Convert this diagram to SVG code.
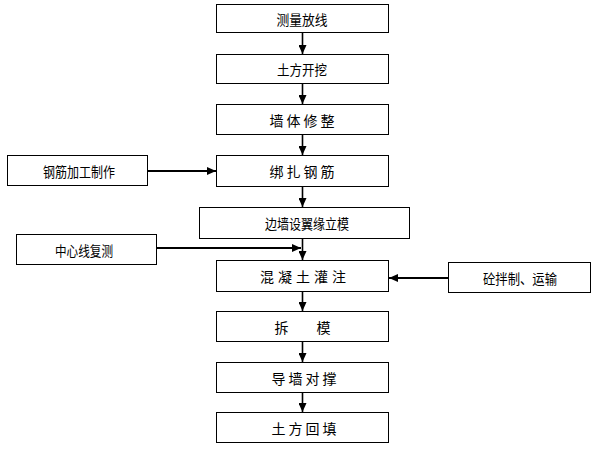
<svg xmlns="http://www.w3.org/2000/svg" width="600" height="451" viewBox="0 0 600 451">
<defs>
<style>
rect{fill:#fff;stroke:#000;stroke-width:1}
text{font-family:"Noto Sans CJK SC","Noto Sans",sans-serif;font-size:14px;fill:#000;text-anchor:middle;dominant-baseline:central}
.sp{letter-spacing:3px}
.c line{stroke:#000;stroke-width:1.6;marker-end:url(#ah)}
.c .h{stroke-width:2}
</style>
<marker id="ah" markerUnits="userSpaceOnUse" markerWidth="9" markerHeight="8" refX="9" refY="4" orient="auto">
<path d="M0,0 L9,4 L0,8 z" fill="#000"/>
</marker>
</defs>
<rect x="0" y="0" width="600" height="451" style="stroke:none"/>
<g id="n1"><rect x="216.5" y="4.5" width="172" height="28"/><text x="302" y="18.5" textLength="51" lengthAdjust="spacingAndGlyphs">测量放线</text></g>
<g id="n2"><rect x="216.5" y="54.5" width="172" height="29"/><text x="302" y="69" textLength="50" lengthAdjust="spacingAndGlyphs">土方开挖</text></g>
<g id="n3"><rect x="216.5" y="104.5" width="172" height="30"/><text class="sp" x="303.5" y="119.5">墙体修整</text></g>
<g id="n4"><rect x="216.5" y="155.5" width="172" height="31"/><text class="sp" x="303.5" y="171">绑扎钢筋</text></g>
<g id="n5"><rect x="199.5" y="207.5" width="210" height="31"/><text x="307" y="223" textLength="84" lengthAdjust="spacingAndGlyphs">边墙设翼缘立模</text></g>
<g id="n6"><rect x="216.5" y="260.5" width="172" height="31"/><text x="305" y="276" style="letter-spacing:4px">混凝土灌注</text></g>
<g id="n7"><rect x="216.5" y="311.5" width="172" height="30"/><text x="302.5" y="326.5" style="white-space:pre">拆         模</text></g>
<g id="n8"><rect x="216.5" y="362.5" width="172" height="30"/><text class="sp" x="305.5" y="377.5">导墙对撑</text></g>
<g id="n9"><rect x="216.5" y="412.5" width="172" height="30"/><text class="sp" x="305.5" y="427.5">土方回填</text></g>
<g id="s1"><rect x="7.5" y="155.5" width="140" height="30"/><text x="79" y="170.5" textLength="72" lengthAdjust="spacingAndGlyphs">钢筋加工制作</text></g>
<g id="s2"><rect x="16.5" y="234.5" width="140" height="30"/><text x="84" y="249.5" textLength="58" lengthAdjust="spacingAndGlyphs">中心线复测</text></g>
<g id="s3"><rect x="448.5" y="262.5" width="142" height="30"/><text x="520" y="277.5" textLength="74" lengthAdjust="spacingAndGlyphs">砼拌制、运输</text></g>
<g id="connectors" class="c">
<line x1="302.5" y1="33" x2="302.5" y2="54"/>
<line x1="302.5" y1="84" x2="302.5" y2="104"/>
<line x1="302.5" y1="135" x2="302.5" y2="155"/>
<line x1="302.5" y1="187" x2="302.5" y2="207"/>
<line x1="302.5" y1="239" x2="302.5" y2="260"/>
<line x1="302.5" y1="292" x2="302.5" y2="311"/>
<line x1="302.5" y1="342" x2="302.5" y2="362"/>
<line x1="302.5" y1="393" x2="302.5" y2="412"/>
<line class="h" x1="148" y1="171" x2="216" y2="171"/>
<line class="h" x1="157" y1="248" x2="301" y2="248"/>
<line class="h" x1="448" y1="278" x2="389" y2="278"/>
</g>
</svg>
